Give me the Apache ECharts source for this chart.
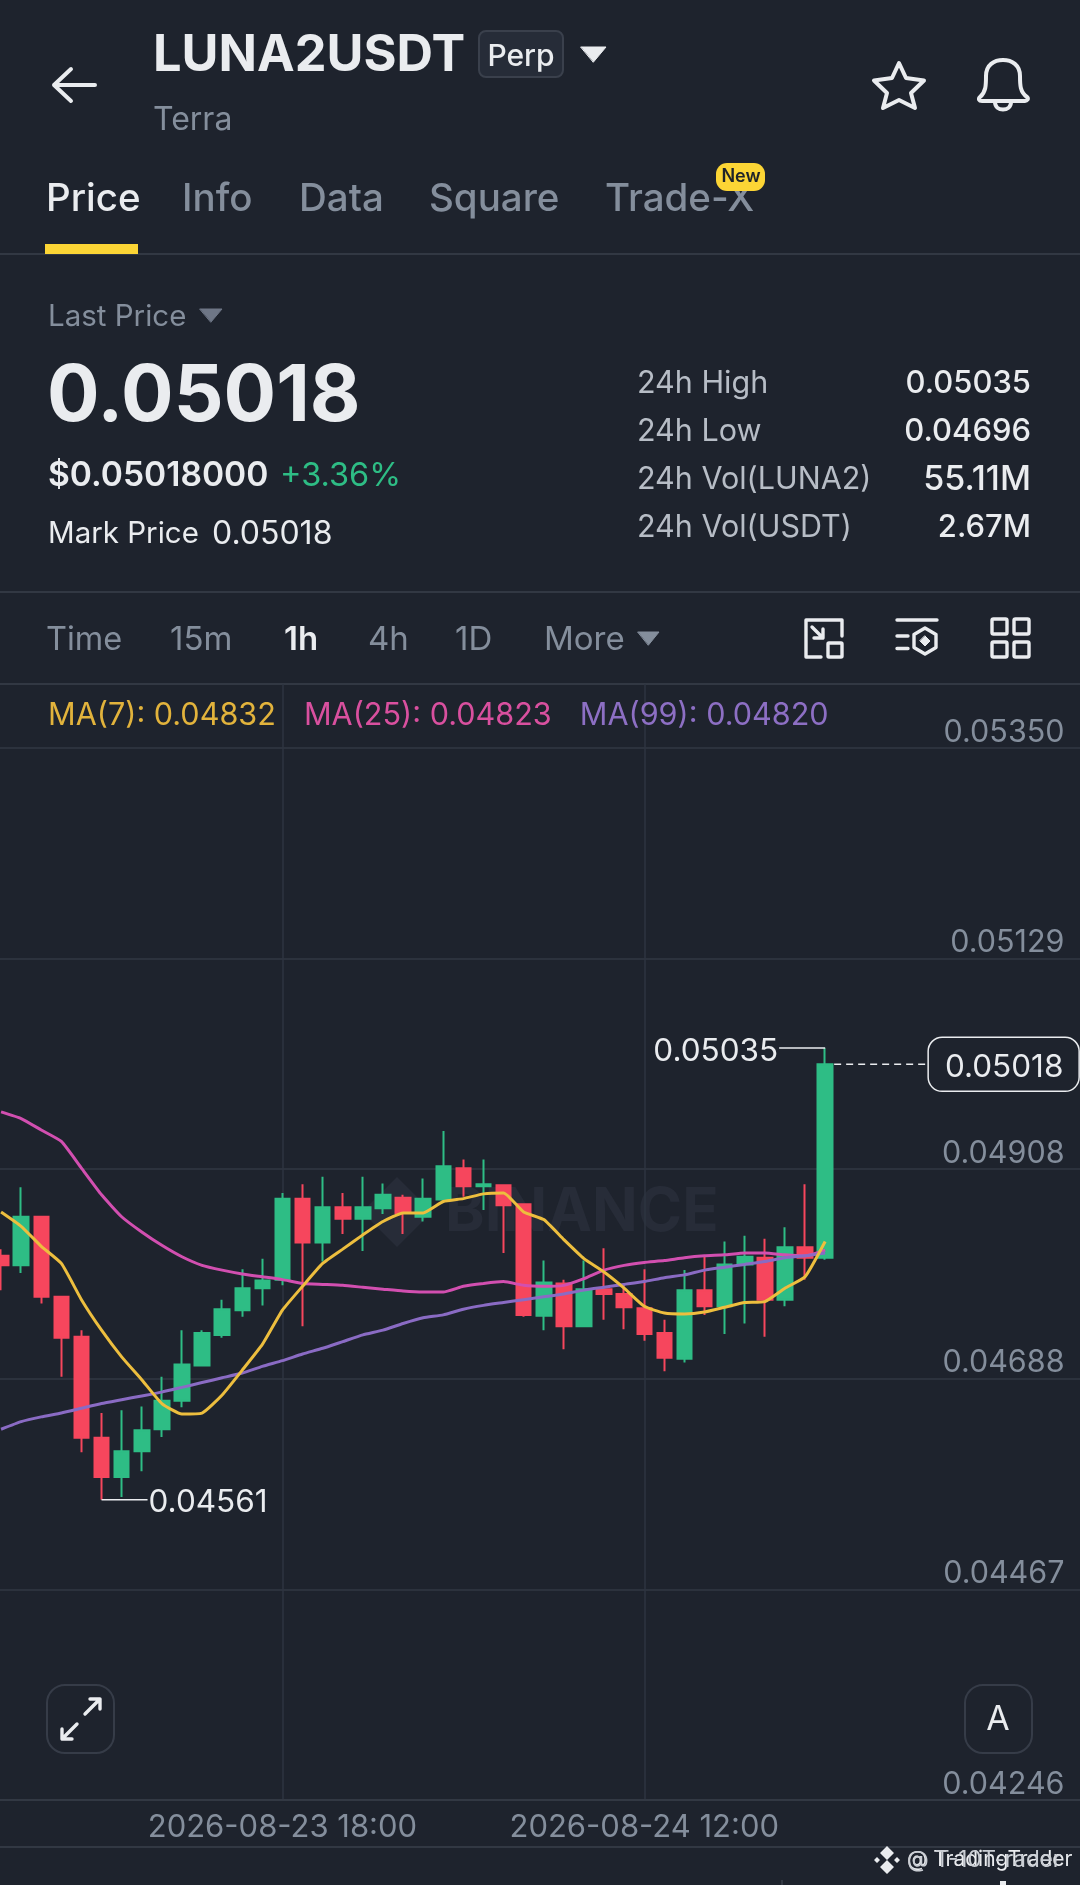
<!DOCTYPE html>
<html><head><meta charset="utf-8">
<style>html,body{margin:0;padding:0;background:#1E232D}#c{width:1080px;height:1885px}</style>
<script src="https://cdn.jsdelivr.net/npm/echarts@6/dist/echarts.min.js"></script>
</head><body><div id="c"></div>
<script>
const categories=["2026-08-23 04:00","2026-08-23 05:00","2026-08-23 06:00","2026-08-23 07:00","2026-08-23 08:00","2026-08-23 09:00","2026-08-23 10:00","2026-08-23 11:00","2026-08-23 12:00","2026-08-23 13:00","2026-08-23 14:00","2026-08-23 15:00","2026-08-23 16:00","2026-08-23 17:00","2026-08-23 18:00","2026-08-23 19:00","2026-08-23 20:00","2026-08-23 21:00","2026-08-23 22:00","2026-08-23 23:00","2026-08-24 00:00","2026-08-24 01:00","2026-08-24 02:00","2026-08-24 03:00","2026-08-24 04:00","2026-08-24 05:00","2026-08-24 06:00","2026-08-24 07:00","2026-08-24 08:00","2026-08-24 09:00","2026-08-24 10:00","2026-08-24 11:00","2026-08-24 12:00","2026-08-24 13:00","2026-08-24 14:00","2026-08-24 15:00","2026-08-24 16:00","2026-08-24 17:00","2026-08-24 18:00","2026-08-24 19:00","2026-08-24 20:00","2026-08-24 21:00","2026-08-24 22:00","2026-08-24 23:00","2026-08-25 00:00","2026-08-25 01:00","2026-08-25 02:00","2026-08-25 03:00","2026-08-25 04:00","2026-08-25 05:00","2026-08-25 06:00","2026-08-25 07:00","2026-08-25 08:00","2026-08-25 09:00","2026-08-25 10:00"];
const timeTicks=["2026-08-23 18:00","2026-08-24 12:00"];
const priceTicks=[0.0535,0.05129,0.04908,0.04688,0.04467,0.04246];
const opens=[0.04817,0.04807,0.04858,0.04774,0.04732,0.04626,0.04585,0.04612,0.04635,0.04665,0.04702,0.04734,0.0476,0.04783,0.04792,0.04877,0.04831,0.04868,0.04856,0.04867,0.04878,0.04858,0.04876,0.04909,0.0489,0.04891,0.04871,0.04754,0.04788,0.04743,0.04782,0.04777,0.04762,0.04736,0.04709,0.04781,0.04764,0.04808,0.04815,0.04771,0.04826,0.04815];
const closes=[0.04807,0.04858,0.04774,0.04731,0.04626,0.04585,0.04612,0.04634,0.04665,0.04703,0.04736,0.04761,0.04783,0.04791,0.04877,0.04831,0.04868,0.04856,0.04868,0.04881,0.04862,0.04877,0.04911,0.0489,0.04892,0.0487,0.04755,0.04789,0.04743,0.04782,0.04777,0.04763,0.04735,0.0471,0.04781,0.04764,0.04808,0.04816,0.04771,0.04826,0.04815,0.05018];
const lows=[0.04781,0.04799,0.04767,0.0469,0.04611,0.04561,0.04564,0.04591,0.04627,0.04658,0.04702,0.04731,0.04753,0.04765,0.04786,0.04743,0.04811,0.0484,0.04822,0.04861,0.0484,0.04853,0.04876,0.04879,0.04865,0.0482,0.04753,0.04739,0.04719,0.04743,0.0475,0.0474,0.04728,0.04696,0.04705,0.04755,0.04735,0.04746,0.04732,0.04764,0.04792,0.04813];
const highs=[0.04824,0.04889,0.04858,0.04774,0.04739,0.04652,0.04655,0.04659,0.0469,0.04739,0.04739,0.04771,0.04803,0.04814,0.04883,0.04892,0.049,0.04883,0.049,0.04893,0.04881,0.04898,0.04948,0.04918,0.04918,0.04892,0.04871,0.04812,0.04792,0.04812,0.04825,0.04788,0.04803,0.0475,0.04802,0.04817,0.04832,0.04838,0.04835,0.04847,0.04892,0.05035];
const ma7=[0.04863,0.04848,0.04827,0.04809,0.04771,0.04739,0.04711,0.04687,0.04662,0.04651,0.04652,0.04671,0.04697,0.04724,0.0476,0.04785,0.04809,0.04824,0.04839,0.04853,0.04862,0.04862,0.04874,0.04877,0.04882,0.04883,0.04863,0.04855,0.04834,0.04814,0.048,0.04783,0.04764,0.04757,0.04756,0.04758,0.04763,0.04768,0.04769,0.04783,0.04795,0.04832];
const ma25=[0.04968,0.04961,0.04949,0.04937,0.04909,0.04881,0.04858,0.04842,0.04828,0.04816,0.04807,0.04802,0.04798,0.04795,0.04792,0.04788,0.04787,0.04786,0.04784,0.04782,0.0478,0.04779,0.04779,0.04785,0.04788,0.0479,0.04786,0.04785,0.04786,0.04793,0.04802,0.04807,0.0481,0.04812,0.04815,0.04817,0.04818,0.0482,0.0482,0.04818,0.04817,0.04823];
const ma99=[0.04635,0.04643,0.04648,0.04652,0.04657,0.04662,0.04666,0.0467,0.04674,0.04679,0.04684,0.04689,0.04694,0.04701,0.04707,0.04714,0.0472,0.04727,0.04734,0.04739,0.04746,0.04752,0.04755,0.04761,0.04765,0.04768,0.04771,0.04774,0.04777,0.04781,0.04784,0.04787,0.0479,0.04794,0.04797,0.04802,0.04805,0.04808,0.04811,0.04815,0.04817,0.0482];
const extremeIndex=[41,5];
const extremePrice=[0.05035,0.04561];
const lastPrice=0.05018;
const lastIndex=41;

const FONT='Inter, "Noto Sans", sans-serif';
const BG='#1E232D',WHITE='#EAECEF',GRAY='#848E9C',LABEL='#B7BDC6',RULE='#323843',UP='#2EBD85',DOWN='#F6465D',YEL='#FCD535';
const T=(x,y,text,size,fill,weight,align)=>({type:'text',silent:true,style:{x,y,text,fill:fill||WHITE,font:`${weight||400} ${size}px ${FONT}`,align:align||'left',verticalAlign:'middle'}});
const R=(x,y,w,h,r,fill,stroke,lw)=>({type:'rect',silent:true,shape:{x,y,width:w,height:h,r:r||0},style:{fill:fill||'none',stroke:stroke||'none',lineWidth:lw||0}});
let pathCount=0;
const P=(d,stroke,lw,fill)=>{const name='uiPath'+(pathCount++);echarts.graphic.registerShape(name,echarts.graphic.extendPath(d,{}));return {type:name,silent:true,style:{fill:fill||'none',stroke:stroke||'none',lineWidth:lw||0,lineCap:'round',lineJoin:'round'}};};
const HL=(y)=>R(0,y-1,1080,2,0,RULE);

const ui=[
 HL(254),HL(592),HL(684),HL(1847),
 P('M95 85L54 85M71 69L54 85L71 101',WHITE,4),
 T(153,56,'LUNA2USDT',50.5,WHITE,700),
 R(479,31,84,46,7,'#262C38','#3A404C',2),
 T(521,57,'Perp',30,WHITE,500,'center'),
 P('M581 47L606 47L593.5 62Z',WHITE,1,WHITE),
 T(153,120,'Terra',32,GRAY,400),
 P('M899 63L906 78L924 80.5L911 93L915 108L899 100L883 108L887 93L874 80.5L892 78Z',WHITE,4),
 P('M980 97C986 92 986 85 986 76C986 65 994 60 1003 60C1012 60 1020 65 1020 76C1020 85 1020 92 1027 97C1029 99 1027 101 1025 101L982 101C979 101 978 99 980 97ZM995 102C995 112 1011 112 1011 102',WHITE,4),
 T(46,199,'Price',38.5,WHITE,500),
 T(182,199,'Info',38.5,GRAY,500),
 T(299,199,'Data',38.5,GRAY,500),
 T(429,199,'Square',38.5,GRAY,500),
 T(605,199,'Trade-X',38.5,GRAY,500),
 R(716,163,49,28,11,YEL),
 T(741,177,'New',18,'#1E2329',600,'center'),
 R(45,244,93,10,0,YEL),
 T(48,317,'Last Price',29.5,GRAY,400),
 P('M200 309L222 309L211 322Z','#6E7686',1,'#6E7686'),
 T(47,398,'0.05018',78,WHITE,700),
 T(48,476,'$0.05018000',33.6,WHITE,600),
 T(280,476,'+3.36%',32.5,UP,400),
 T(48,534,'Mark Price',29.5,WHITE,400),
 T(212,534,'0.05018',32,WHITE,400),
 T(637,384,'24h High',30.5,LABEL,400),
 T(637,432,'24h Low',30.5,LABEL,400),
 T(637,480,'24h Vol(LUNA2)',30.5,LABEL,400),
 T(637,528,'24h Vol(USDT)',30.5,LABEL,400),
 T(1031,384,'0.05035',31,WHITE,500,'right'),
 T(1031,432,'0.04696',31,WHITE,500,'right'),
 T(1031,480,'55.11M',34,WHITE,500,'right'),
 T(1031,528,'2.67M',31,WHITE,500,'right'),
 T(46,640,'Time',32.5,GRAY,400),
 T(170,640,'15m',33,GRAY,400),
 T(284,640,'1h',33,WHITE,600),
 T(368,640,'4h',33,GRAY,400),
 T(455,640,'1D',33,GRAY,400),
 T(544,640,'More',33,GRAY,400),
 P('M638 632L659 632L648.5 645Z',GRAY,1,GRAY),
 P('M821 657L806 657L806 620L842 620L842 636M812 627L823 638M823 629L823 638L814 638',WHITE,3.4),
 R(828,643,14,14,1,'none',WHITE,3.4),
 P('M897 620L937 620M897 636L908 636M897 648.5L908 648.5M925 628L936 634.5L936 647.5L925 654L914 647.5L914 634.5Z',WHITE,3.4),
 P('M925 636L930 641L925 646L920 641Z',WHITE,1,WHITE),
 R(992,619,15,15,1.5,'none',WHITE,3.4),R(1014,619,15,15,1.5,'none',WHITE,3.4),
 R(992,642,15,15,1.5,'none',WHITE,3.4),R(1014,642,15,15,1.5,'none',WHITE,3.4),
 P('M397 1177L432 1212L397 1247L362 1212Z','none',0,'#272C38'),
 T(445,1213,'BINANCE',60,'#272C38',700),
 R(47,1685,67,68,18,'none','#363C48',2),
 P('M85 1714L100 1699M90 1699L100 1699L100 1709M77 1724L62 1739M62 1729L62 1739L72 1739',WHITE,3.4),
 R(965,1685,67,68,18,'none','#363C48',2),
 T(998,1720,'A',34,WHITE,400,'center'),
 P('M887 1846L894 1853L887 1860L880 1853ZM887 1860L894 1867L887 1874L880 1867ZM874 1860L877 1857L880 1860L877 1863ZM900 1860L897 1857L894 1860L897 1863Z','none',0,WHITE),
 T(907,1860,'@ TradingTrader',21,WHITE,400),
 T(907,1860,'@ T-10T-rader',22.5,'#C9CDD3',400),
 R(1000,1881,6,4,0,WHITE),
 R(781,1880,2,5,0,RULE)
];

const candles=opens.map((o,i)=>[o,closes[i],lows[i],highs[i]]);
const mkLine=(name,data,color)=>({name,type:'line',data,showSymbol:false,symbol:'none',smooth:0.15,lineStyle:{color,width:3},itemStyle:{color},z:4,animation:false,silent:true});
const maLast={'MA(7)':ma7[41],'MA(25)':ma25[41],'MA(99)':ma99[41]};
const isTimeTick=i=>timeTicks.includes(categories[i]);

const option={
 animation:false,
 backgroundColor:BG,
 textStyle:{fontFamily:FONT},
 graphic:{elements:ui},
 legend:{left:43,top:700,icon:'none',itemWidth:0,itemHeight:0,itemGap:23,selectedMode:false,padding:0,
  data:[{name:'MA(7)',textStyle:{color:'#E2B33C'}},{name:'MA(25)',textStyle:{color:'#D9509F'}},{name:'MA(99)',textStyle:{color:'#8D6FC4'}}],
  textStyle:{fontSize:30.6,fontFamily:FONT},
  formatter:n=>n+': '+maLast[n].toFixed(5)},
 grid:{left:-9,right:-16.5,top:684,bottom:85,outerBoundsMode:'none'},
 xAxis:{type:'category',data:categories,boundaryGap:true,
  axisLine:{show:true,lineStyle:{color:RULE,width:2}},
  axisTick:{show:false},
  axisLabel:{interval:(i)=>isTimeTick(i),color:GRAY,fontSize:31,fontFamily:FONT,margin:12,hideOverlap:false},
  splitLine:{show:true,alignWithLabel:true,interval:(i)=>isTimeTick(i),lineStyle:{color:'#2E3440',width:1.5}}},
 yAxis:{type:'value',position:'right',scale:true,min:0.04246,max:0.05417,
  axisLine:{show:false},
  axisTick:{show:false,customValues:priceTicks},
  axisLabel:{inside:true,customValues:priceTicks,margin:32,color:GRAY,fontSize:30.5,fontFamily:FONT,verticalAlign:'bottom',padding:[0,0,0,0],formatter:v=>v.toFixed(5)},
  splitLine:{show:true,lineStyle:{color:RULE,width:1.5}}},
 series:[
  {name:'LUNA2USDT',type:'candlestick',data:candles,barWidth:15,z:2,silent:true,
   itemStyle:{color:UP,color0:DOWN,borderColor:UP,borderColor0:DOWN,borderWidth:2}},
  mkLine('MA(25)',ma25,'#D24FB0'),
  mkLine('MA(99)',ma99,'#8A6BC4'),
  mkLine('MA(7)',ma7,'#EDBE3E'),
  {name:'Extremes',type:'custom',coordinateSystem:'cartesian2d',z:5,silent:true,clip:false,
   data:extremeIndex.map((x,i)=>[x,extremePrice[i]]),encode:{x:0,y:1},
   renderItem(params,api){
    const p=api.coord([api.value(0),api.value(1)]);
    const left=api.value(0)>20;
    const x2=p[0]+(left?-46:46);
    return {type:'group',children:[
     {type:'line',shape:{x1:p[0],y1:p[1],x2,y2:p[1]},style:{stroke:WHITE,lineWidth:1.5}},
     {type:'text',style:{x:x2+(left?-1:1),y:p[1]+3,text:api.value(1).toFixed(5),fill:WHITE,font:`400 31.5px ${FONT}`,align:left?'right':'left',verticalAlign:'middle'}}
    ]};
   }},
  {name:'Last',type:'custom',coordinateSystem:'cartesian2d',z:6,silent:true,clip:false,
   data:[[lastIndex,lastPrice]],encode:{x:0,y:1},
   renderItem(params,api){
    const p=api.coord([api.value(0),api.value(1)]);
    return {type:'group',children:[
     {type:'line',shape:{x1:p[0]+9,y1:p[1],x2:p[0]+102,y2:p[1]},style:{stroke:WHITE,lineWidth:1.5,lineDash:[7,5]}},
     {type:'rect',shape:{x:p[0]+103,y:p[1]-27,width:151,height:54,r:14},style:{fill:BG,stroke:WHITE,lineWidth:1.5}},
     {type:'text',style:{x:p[0]+179,y:p[1]+3,text:api.value(1).toFixed(5),fill:WHITE,font:`400 31.5px ${FONT}`,align:'center',verticalAlign:'middle'}}
    ]};
   }}
 ]
};
const chart=echarts.init(document.getElementById('c'),null,{width:1080,height:1885});
chart.setOption(option);
</script></body></html>
